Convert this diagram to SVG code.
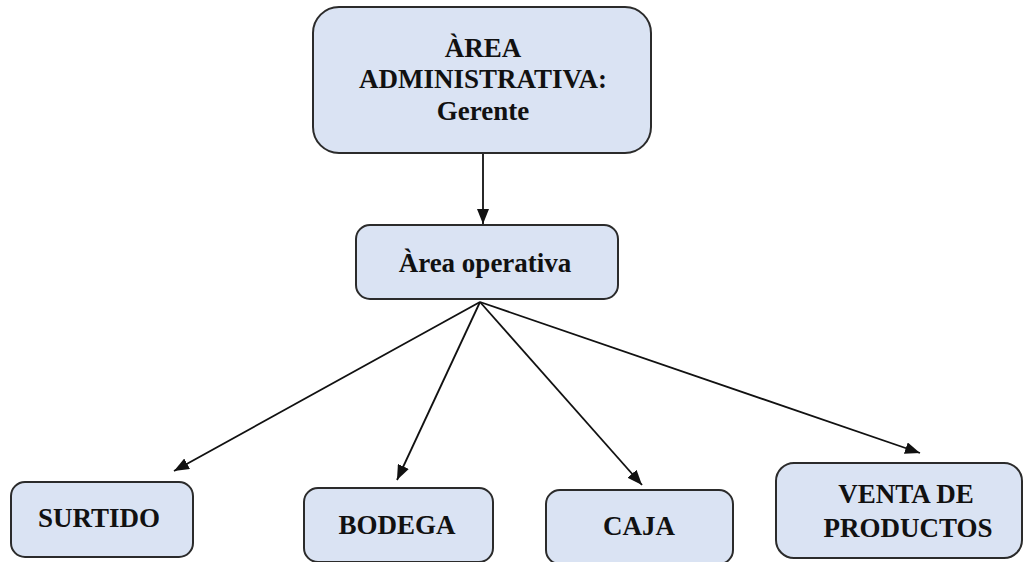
<svg xmlns="http://www.w3.org/2000/svg" width="1026" height="562" viewBox="0 0 1026 562">
<style>
.box{fill:#dae3f3;stroke:#2b2b2b;stroke-width:2}
.t{font-family:'Liberation Serif','DejaVu Serif',serif;font-weight:700;font-size:27px;fill:#111;text-anchor:middle}
.c{stroke:#111;stroke-width:1.8;fill:none;marker-end:url(#ah)}
</style>
<defs>
<marker id="ah" viewBox="0 0 10 10" refX="10" refY="5" markerWidth="15" markerHeight="12" markerUnits="userSpaceOnUse" orient="auto" preserveAspectRatio="none">
<path d="M0,0 L10,5 L0,10 z" fill="#111"/>
</marker>
</defs>
<rect width="1026" height="562" fill="#fff"/>
<g id="connectors">
<line class="c" x1="483" y1="153" x2="483" y2="224"/>
<line class="c" x1="480" y1="302" x2="174" y2="471"/>
<line class="c" x1="480" y1="302" x2="397" y2="480"/>
<line class="c" x1="480" y1="302" x2="642" y2="485"/>
<line class="c" x1="480" y1="302" x2="920" y2="453"/>
</g>
<g id="n-admin">
<rect class="box" x="313" y="7" width="338" height="146" rx="26"/>
<text class="t" x="483" y="57">ÀREA</text>
<text class="t" x="483" y="88">ADMINISTRATIVA:</text>
<text class="t" x="483" y="120">Gerente</text>
</g>
<g id="n-operativa">
<rect class="box" x="356" y="225" width="262" height="74" rx="14"/>
<text class="t" x="485" y="272">Àrea operativa</text>
</g>
<g id="n-surtido">
<rect class="box" x="11" y="482" width="182" height="75" rx="14"/>
<text class="t" x="99" y="527">SURTIDO</text>
</g>
<g id="n-bodega">
<rect class="box" x="304" y="488" width="189" height="74" rx="14"/>
<text class="t" x="397" y="534">BODEGA</text>
</g>
<g id="n-caja">
<rect class="box" x="546" y="490" width="187" height="74" rx="14"/>
<text class="t" x="639" y="535">CAJA</text>
</g>
<g id="n-venta">
<rect class="box" x="776" y="463" width="246" height="95" rx="18"/>
<text class="t" x="906" y="503">VENTA DE</text>
<text class="t" x="908" y="537">PRODUCTOS</text>
</g>
</svg>
